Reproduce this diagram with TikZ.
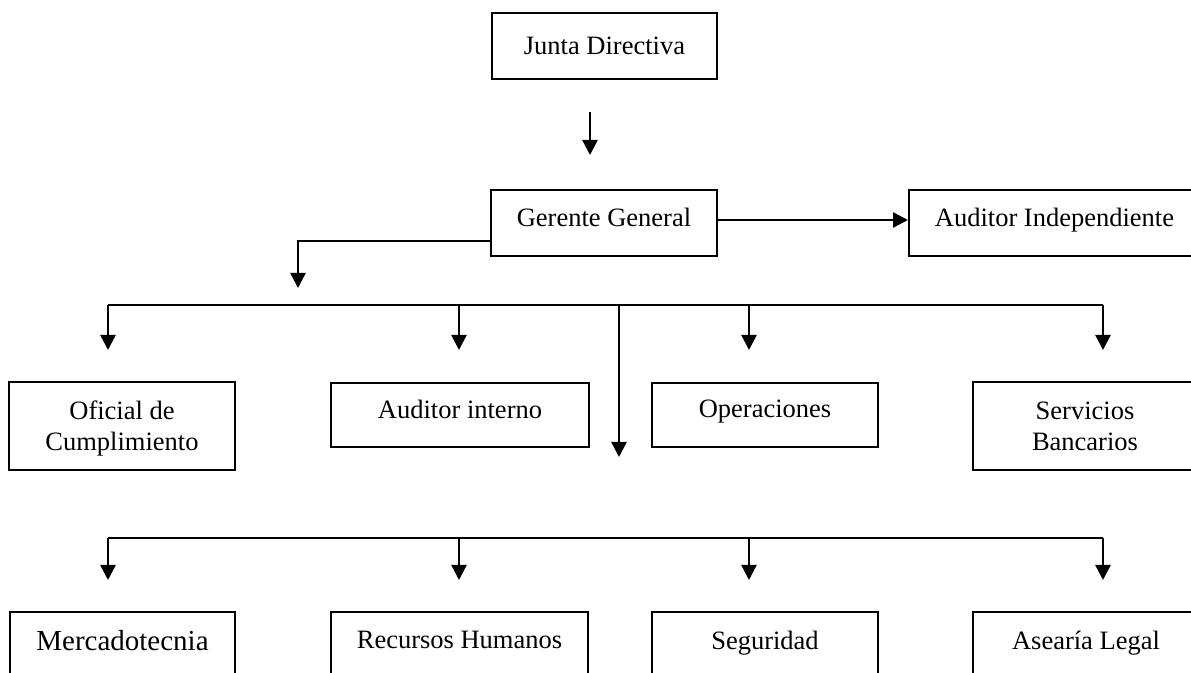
\documentclass[tikz,border=0pt]{standalone}
\usepackage{fontspec}
\setmainfont{Liberation Serif}
\usetikzlibrary{arrows.meta}
\begin{document}
\begin{tikzpicture}[x=0.5pt,y=-0.5pt,
  box/.style={draw, line width=1pt, text depth=0pt, align=center, inner sep=0pt,
    font=\fontsize{13.25}{15.5}\selectfont},
  arr/.style={line width=1.2pt, -{Triangle[width=7.5pt,length=7.5pt]}},
  ln/.style={line width=1.2pt}]
\useasboundingbox (0,0) rectangle (1191,673);
\clip (0,0) rectangle (1191,673);
\fill[white] (0,0) rectangle (1191,673);
% boxes
\node[box, minimum width=112.5pt, minimum height=33pt] (jd) at (604.5,46) {Junta Directiva};
\node[box, minimum width=113pt, minimum height=33pt, text depth=6pt] (gg) at (604,223) {Gerente General};
\node[box, minimum width=145.5pt, minimum height=33pt, text depth=6pt] (ai) at (1054.5,223) {Auditor Independiente};
\node[box, minimum width=113pt, minimum height=44pt] (oc) at (122,426) {Oficial de\\Cumplimiento};
\node[box, minimum width=129pt, minimum height=32pt, text depth=6pt] (aint) at (460,415) {Auditor interno};
\node[box, minimum width=113pt, minimum height=32pt, text depth=6pt] (op) at (765,415) {Operaciones};
\node[box, minimum width=112pt, minimum height=44pt] (sb) at (1085,426) {Servicios\\Bancarios};
\node[box, minimum width=112.5pt, minimum height=45pt, text depth=17pt, font=\fontsize{14.5}{17}\selectfont] (mk) at (122.5,657) {Mercadotecnia};
\node[box, minimum width=128.5pt, minimum height=45pt, text depth=17pt] (rh) at (459.5,657) {Recursos Humanos};
\node[box, minimum width=113pt, minimum height=45pt, text depth=17pt] (sg) at (765,657) {Seguridad};
\node[box, minimum width=113pt, minimum height=45pt, text depth=17pt] (al) at (1086,657) {Asearía Legal};
% connectors
\coordinate (t1) at (590,112);
\coordinate (t2) at (590,155);
\draw[arr] (t1) -- (t2);
\draw[arr] ([yshift=1.5pt]gg.east) -- ([yshift=1.5pt]gg.east -| ai.west);
\coordinate (l1) at (298,288);
\draw[arr] ([yshift=-9pt]gg.west) -| (l1);
\coordinate (b1l) at (108,305);
\coordinate (b1r) at (1103,305);
\draw[ln] (b1l) -- (b1r);
\foreach \x in {108,459,749,1103} {
  \coordinate (d1s) at (\x,305);
  \coordinate (d1e) at (\x,350);
  \draw[arr] (d1s) -- (d1e);
}
\coordinate (m1) at (619,305);
\coordinate (m2) at (619,457);
\draw[arr] (m1) -- (m2);
\coordinate (b2l) at (108,538);
\coordinate (b2r) at (1103,538);
\draw[ln] (b2l) -- (b2r);
\foreach \x in {108,459,749,1103} {
  \coordinate (d2s) at (\x,538);
  \coordinate (d2e) at (\x,580);
  \draw[arr] (d2s) -- (d2e);
}
\end{tikzpicture}
\end{document}
